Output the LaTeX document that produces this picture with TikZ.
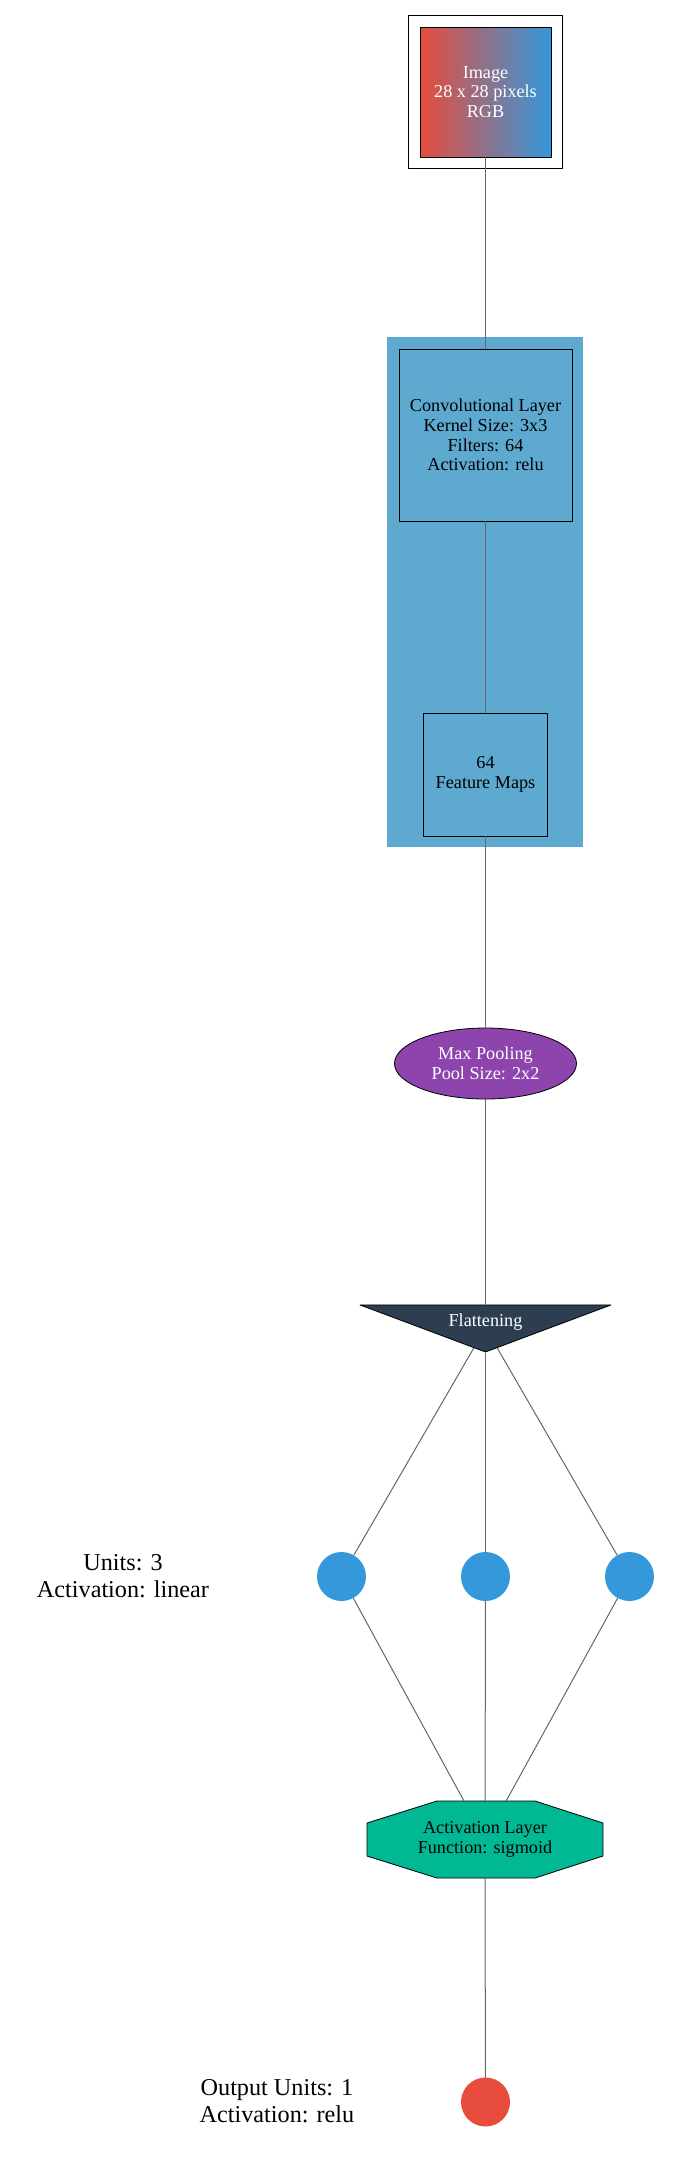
\documentclass[tikz,border=0pt]{standalone}
\usepackage{fontspec}
\setmainfont{Liberation Serif}
\usetikzlibrary{arrows,shapes.geometric,fit}

\definecolor{imgred}{HTML}{E74C3C}
\definecolor{imgblue}{HTML}{3498DB}
\definecolor{clusterbg}{HTML}{5EA9D0}
\definecolor{poolpurple}{HTML}{8E44AD}
\definecolor{flatnavy}{HTML}{2C3E50}
\definecolor{actgreen}{HTML}{00B894}
\definecolor{edgegray}{HTML}{666666}

\tikzset{
  layerbox/.style={draw=black,line width=0.8pt,align=center,inner sep=0pt},
  unit/.style={circle,fill=imgblue,minimum size=49pt,inner sep=0pt},
  link/.style={draw=edgegray,line width=1pt},
  sidetext/.style={font=\fontsize{24.2}{27}\selectfont,align=center}
}

\begin{document}
\begin{tikzpicture}[line cap=round,line join=round,x=1pt,y=-1pt,font=\fontsize{18.2}{19.8}\selectfont]
      \useasboundingbox (0,0) rectangle (680,2161);
      \fill[clusterbg] (387,337) rectangle (583,847);
      \draw[line width=0.8pt,fill=actgreen] (437,1801) -- (535,1801) -- (603,1823) -- (603,1856)
        -- (535,1878) -- (437,1878) -- (367,1856) -- (367,1823) -- cycle;

      \node[layerbox,left color=imgred,right color=imgblue,text=white,
        minimum width=131pt,minimum height=130pt] (img) at (485.5,92) {Image\\28 x 28 pixels\\RGB};
      \node[draw,line width=0.8pt,fit=(img),inner sep=11pt] (imgframe) {};

      \node[layerbox,minimum width=173pt,minimum height=172pt] (conv) at (485.5,435)
        {Convolutional Layer\\Kernel Size: 3x3\\Filters: 64\\Activation: relu};
      \node[layerbox,minimum width=124pt,minimum height=123pt] (fmaps) at (485.5,774.5) {64\\Feature Maps};

      \node[ellipse,draw,line width=0.8pt,fill=poolpurple,text=white,align=center,inner sep=0pt,
        minimum width=182pt,minimum height=71pt] (pool) at (485.5,1063.5) {Max Pooling\\Pool Size: 2x2};

      \node[isosceles triangle,isosceles triangle stretches,shape border rotate=270,
        minimum width=251pt,minimum height=47pt,inner sep=0pt,fill=flatnavy,draw,line width=0.8pt,
        anchor=apex] (flat) at (485.5,1353) {};
      \node[text=white] (flattxt) at (485.5,1322) {Flattening};

      \foreach \x/\n in {341.5/u1,485.5/u2,629.5/u3}{
        \node[unit] (\n) at (\x,1576.5) {};
      }
      \node[sidetext] (unitlbl) at (123,1576.5) {Units: 3\\Activation: linear};

      \node[align=center,inner sep=0pt,minimum width=236pt,minimum height=77pt] (act) at (485,1839.5)
        {Activation Layer\\Function: sigmoid};

      \node[unit,fill=imgred] (out) at (485.5,2102) {};
      \node[sidetext] (outlbl) at (277,2101) {Output Units: 1\\Activation: relu};

      \draw[link] (img) -- (conv);
      \draw[link] (conv) -- (fmaps);
      \draw[link] (fmaps) -- (pool);
      \draw[link] (pool) -- (flat);
      \foreach \n in {u1,u2,u3}{
        \draw[link] (flat) -- (\n);
        \draw[link] (\n) -- (act);
      }
      \draw[link] (act.south) -- (out);
\end{tikzpicture}
\end{document}
